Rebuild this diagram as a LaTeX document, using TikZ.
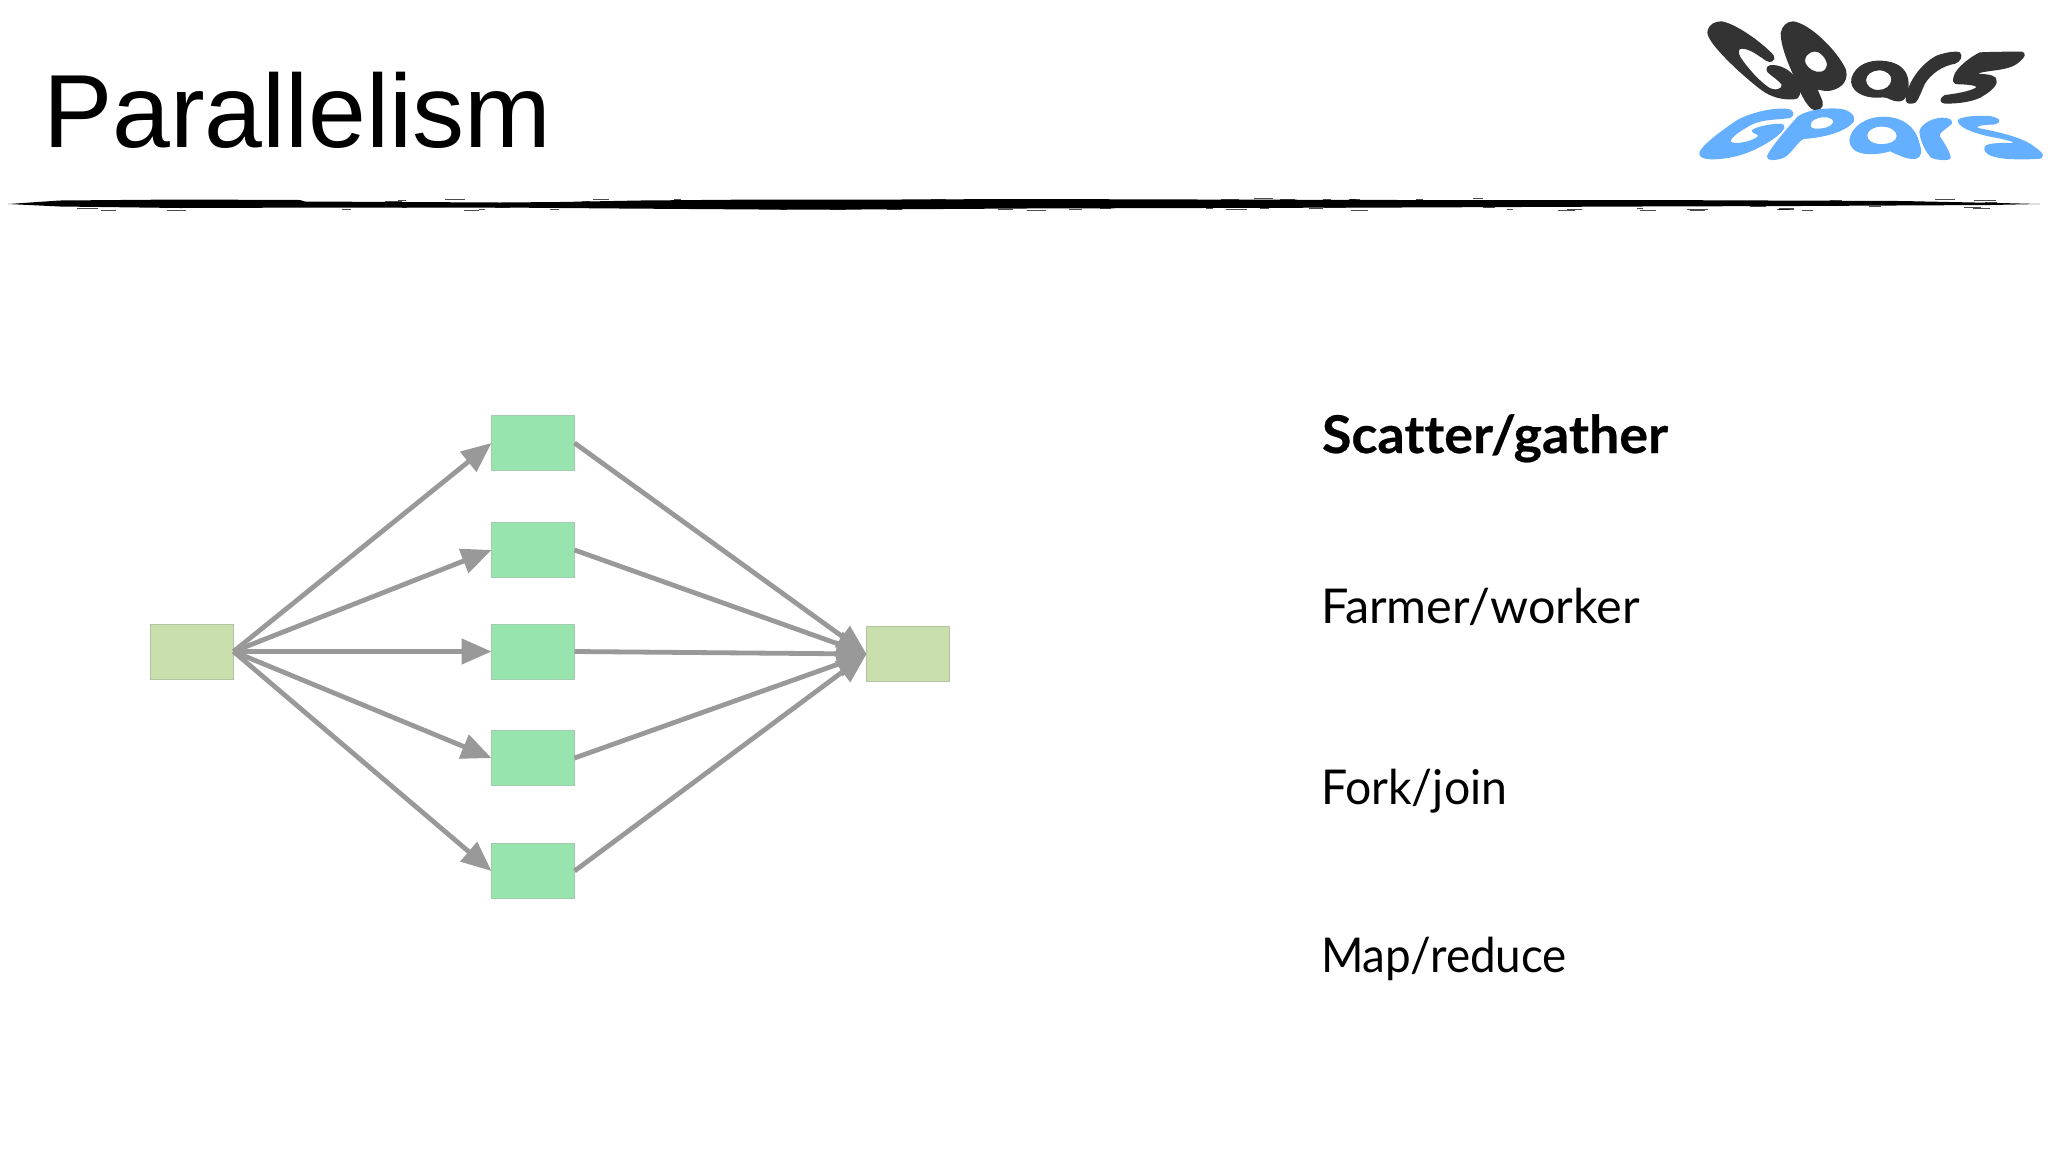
\documentclass[tikz,border=0pt]{standalone}
\usepackage{fontspec}
\setmainfont{Lato}[Ligatures=NoCommon,BoldFeatures={FakeBold=0.5}]
\newfontfamily\titlefont{Liberation Sans}
\usetikzlibrary{arrows.meta}
\definecolor{arrowgray}{HTML}{999999}
\definecolor{midfill}{HTML}{98E4AF}
\definecolor{midline}{HTML}{A3CBAD}
\definecolor{endfill}{HTML}{C9DFAE}
\definecolor{endline}{HTML}{B0C4A0}
\definecolor{logodark}{HTML}{333333}
\definecolor{logoblue}{HTML}{64AFFF}
\tikzset{
  midbox/.style={draw=midline,fill=midfill,line width=0.5pt,minimum width=41.5pt,minimum height=27.5pt,inner sep=0pt,outer sep=0pt},
  endbox/.style={draw=endline,fill=endfill,line width=0.5pt,minimum width=41.5pt,minimum height=27.5pt,inner sep=0pt,outer sep=0pt},
  conn/.style={draw=arrowgray,line width=2.4pt,-{Triangle[length=15pt,width=12.5pt]}},
  item/.style={anchor=base west,inner sep=0pt,outer sep=0pt,font=\fontsize{24}{28}\selectfont,text=black},
  dk/.style={fill=logodark,draw=logodark,line width=1pt,line join=round},
  bl/.style={fill=logoblue,draw=logoblue,line width=0.6pt,line join=round},
}
\begin{document}
\begin{tikzpicture}[x=0.5pt,y=-0.5pt]
\useasboundingbox (0,0) rectangle (2048,1152);
\fill[white] (0,0) rectangle (2048,1152);

\node[anchor=base west,inner sep=0pt,outer sep=0pt,font=\titlefont\fontsize{52}{60}\selectfont] (title) at (43,147) {Parallelism};

% brush rule
\fill[black] (8,204) -- (60,200.5) -- (180,199.5) -- (300,200) -- (305,201.5) -- (500,202.5) -- (560,202) -- (640,200.5) -- (760,199.5) -- (900,199.5) -- (1024,199) -- (1200,199.5) -- (1400,200) -- (1640,200) -- (1900,201) -- (2000,203) -- (2040,204)
  -- (1990,205) -- (1800,206) -- (1640,206.5) -- (1400,207.5) -- (1200,208) -- (1024,208.5) -- (860,209.5) -- (760,209.5) -- (620,208.5) -- (500,207.5) -- (340,207.5) -- (180,208) -- (60,206.5) -- cycle;
\pgfmathsetseed{4217}
\foreach \i in {1,...,110}{
  \pgfmathsetmacro{\xa}{20+rnd*1980}
  \pgfmathsetmacro{\ln}{5+rnd*18}
  \pgfmathsetmacro{\ya}{198.5+rnd*12}
  \draw[black,line width=0.45pt,opacity=0.7] (\xa,\ya) -- (\xa+\ln,\ya);
}

% logo
\begin{scope}[shift={(1700,15)},scale=1/3]
\path[dk] (25,52) .. controls (28,30) and (45,22) .. (65,22) .. controls (110,30) and (190,90) .. (218,122) .. controls (225,135) and (212,142) .. (200,135) .. controls (175,118) and (150,98) .. (125,98) .. controls (110,98) and (110,115) .. (120,130) .. controls (140,160) and (175,200) .. (205,220) .. controls (225,232) and (252,225) .. (248,208) .. controls (240,195) and (215,180) .. (205,170) .. controls (198,160) and (205,152) .. (220,153) .. controls (250,155) and (280,175) .. (292,205) .. controls (302,230) and (300,250) .. (280,250) .. controls (250,252) and (215,245) .. (185,222) .. controls (135,185) and (25,85) .. (25,52) -- cycle;
\path[dk,even odd rule] (245,55) .. controls (248,35) and (262,22) .. (280,22) .. controls (330,30) and (410,110) .. (435,165) .. controls (445,205) and (410,222) .. (385,225) .. controls (368,226) and (352,218) .. (350,222) .. controls (352,235) and (370,262) .. (365,272) .. controls (358,285) and (345,285) .. (335,278) .. controls (315,260) and (300,225) .. (285,185) .. controls (270,150) and (245,95) .. (245,55) -- cycle
 (312,135) .. controls (315,112) and (340,100) .. (358,110) .. controls (378,122) and (392,150) .. (378,165) .. controls (362,182) and (335,172) .. (322,158) .. controls (315,150) and (312,145) .. (312,135) -- cycle;
\end{scope}
\begin{scope}[shift={(1680,0)},scale=1/3]
\path[dk,even odd rule] (517,235) .. controls (530,195) and (570,183) .. (605,185) .. controls (650,188) and (675,205) .. (682,240) .. controls (685,260) and (682,280) .. (675,290) .. controls (668,305) and (650,303) .. (635,297) .. controls (620,290) and (615,288) .. (595,290) .. controls (550,292) and (510,270) .. (517,235) -- cycle
 (555,240) .. controls (555,222) and (575,208) .. (597,208) .. controls (620,208) and (638,222) .. (637,240) .. controls (636,260) and (615,273) .. (595,273) .. controls (572,273) and (555,258) .. (555,240) -- cycle;
\path[bl,even odd rule] (510,420) .. controls (515,380) and (560,352) .. (610,352) .. controls (670,352) and (705,385) .. (715,425) .. controls (725,455) and (725,470) .. (705,475) .. controls (680,478) and (650,460) .. (630,452) .. controls (590,465) and (510,470) .. (510,420) -- cycle
 (560,405) .. controls (562,388) and (582,378) .. (605,378) .. controls (632,378) and (652,392) .. (652,408) .. controls (652,424) and (630,434) .. (605,434) .. controls (580,434) and (558,424) .. (560,405) -- cycle;
\end{scope}
\begin{scope}[shift={(1870,40)},scale=1/3]
\path[dk] (110,180) .. controls (112,140) and (145,80) .. (200,50) .. controls (225,40) and (260,35) .. (268,40) .. controls (275,48) and (270,62) .. (255,68) .. controls (215,75) and (180,100) .. (162,130) .. controls (152,150) and (145,175) .. (135,185) .. controls (125,190) and (110,190) .. (110,180) -- cycle;
\path[dk] (330,40) .. controls (370,38) and (420,38) .. (455,38) .. controls (465,40) and (462,50) .. (450,60) .. controls (435,75) and (420,80) .. (395,85) .. controls (370,90) and (325,92) .. (312,103) .. controls (335,105) and (365,105) .. (375,115) .. controls (385,130) and (365,150) .. (330,170) .. controls (300,185) and (255,188) .. (225,188) .. controls (210,186) and (212,176) .. (225,168) .. controls (250,165) and (300,158) .. (320,145) .. controls (330,135) and (300,130) .. (265,130) .. controls (250,130) and (248,122) .. (258,100) .. controls (270,80) and (300,55) .. (330,40) -- cycle;
\end{scope}
\begin{scope}[shift={(1695,100)},scale=1/3]
\path[bl] (15,158) .. controls (20,140) and (70,100) .. (130,60) .. controls (180,35) and (240,25) .. (275,28) .. controls (295,30) and (300,45) .. (285,52) .. controls (250,58) and (205,55) .. (170,72) .. controls (135,90) and (95,118) .. (108,128) .. controls (125,136) and (175,125) .. (190,110) .. controls (195,100) and (172,100) .. (172,92) .. controls (180,82) and (235,72) .. (258,73) .. controls (270,75) and (268,85) .. (258,95) .. controls (235,120) and (170,158) .. (110,170) .. controls (70,178) and (10,182) .. (15,158) -- cycle;
\path[bl,even odd rule] (218,168) .. controls (225,150) and (265,100) .. (310,50) .. controls (345,28) and (400,25) .. (435,28) .. controls (470,33) and (485,55) .. (470,70) .. controls (440,97) and (380,112) .. (325,115) .. controls (305,125) and (285,165) .. (262,173) .. controls (240,180) and (215,182) .. (218,168) -- cycle
 (345,75) .. controls (345,60) and (365,50) .. (388,50) .. controls (410,50) and (420,60) .. (415,70) .. controls (410,82) and (385,88) .. (368,88) .. controls (352,88) and (345,85) .. (345,75) -- cycle;
\end{scope}
\begin{scope}[shift={(1860,100)},scale=1/3]
\path[bl] (270,170) .. controls (265,150) and (248,125) .. (237,108) .. controls (235,95) and (265,82) .. (275,68) .. controls (275,55) and (250,52) .. (230,57) .. controls (205,62) and (180,80) .. (180,97) .. controls (183,125) and (200,158) .. (215,172) .. controls (235,180) and (275,182) .. (270,170) -- cycle;
\path[bl] (295,62) .. controls (300,50) and (360,48) .. (390,50) .. controls (415,55) and (430,65) .. (400,72) .. controls (375,72) and (345,75) .. (350,85) .. controls (400,95) and (480,110) .. (520,140) .. controls (550,160) and (558,175) .. (530,175) .. controls (470,178) and (385,178) .. (375,150) .. controls (370,135) and (385,130) .. (465,130) .. controls (472,126) and (430,115) .. (400,110) .. controls (370,105) and (295,85) .. (295,62) -- cycle;
\end{scope}

% diagram
\node[endbox] (src) at (192,651.5) {};
\node[midbox] (m1) at (533,443) {};
\node[midbox] (m2) at (533,550) {};
\node[midbox] (m3) at (533,651.5) {};
\node[midbox] (m4) at (533,758) {};
\node[midbox] (m5) at (533,871) {};
\node[endbox] (dst) at (908,654) {};
\foreach \m in {m1,m2,m3,m4,m5}{
  \draw[conn] (src.east) -- (\m.west);
  \draw[conn] (\m.east) -- (dst.west);
}

% text
\node[item,font=\fontsize{26}{30}\selectfont\bfseries] (t1) at (1322,453) {\scalebox{1.035}[1]{Scatter/gather}};
\node[item] (t2) at (1321,623) {\scalebox{1.012}[1]{Farmer/worker}};
\node[item] (t3) at (1321,804) {\scalebox{0.966}[1]{Fork/join}};
\node[item] (t4) at (1321,972) {\scalebox{0.954}[1]{Map/reduce}};
\end{tikzpicture}
\end{document}
